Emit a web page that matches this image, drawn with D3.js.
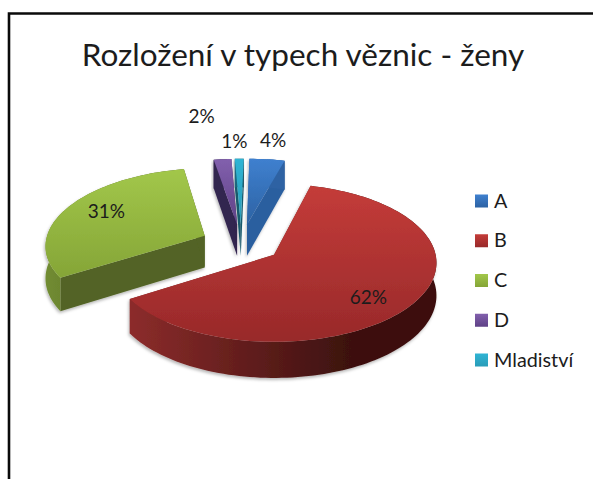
<!DOCTYPE html>
<html><head><meta charset="utf-8">
<script src="https://cdn.jsdelivr.net/npm/d3@7/dist/d3.min.js"></script>
<style>html,body{margin:0;padding:0;background:#fff;overflow:hidden}svg{display:block}text{font-family:Lato,"Open Sans",sans-serif;fill:#1c1c1c}</style>
</head><body><svg id="c" width="593" height="479"></svg>
<script>
const title = "Rozložení v typech věznic - ženy";
const categories = ["A", "B", "C", "D", "Mladiství"];
const values = [4, 62, 31, 2, 1];
const labels = ["4%", "62%", "31%", "2%", "1%"];

const topLight = ["#3f80cf", "#c43c39", "#a2c74a", "#8260ad", "#2fb4d4"];
const topDark  = ["#2c62a3", "#98292a", "#85a537", "#5e4186", "#2a9cb8"];
const wallLight = ["#2d62a3", "#8c2c2b", "#718c31", "#33264f", "#1d6e84"];
const wallDark  = ["#2d62a3", "#3c110f", "#546625", "#33264f", "#14505f"];
const radialWall = ["#2c5f9f", "#7e2726", "#526425", "#33254f", "#175a6c"];

// Perspective view of the pie plane
const view = {x0: 274, y0: 255, R: 161.6, Rt: 78.2, k: 0.101, depth: 32.5};
const centre = {X: -0.206, V: 0.152}, explode = 0.255;
function project(X, V, drop) {
  const w = 1 + view.k * V;
  return [view.x0 + view.R * X / w, view.y0 - view.Rt * V / w + (drop ? view.depth / w : 0)];
}

const svg = d3.select("#c");
const defs = svg.append("defs");
const arcs = d3.pie().sort(null).value(d => d)(values);

defs.append("filter").attr("id", "soft").attr("x", "-10%").attr("y", "-10%").attr("width", "120%").attr("height", "125%")
  .append("feDropShadow").attr("dx", -1).attr("dy", 2).attr("stdDeviation", 1.8).attr("flood-color", "#000").attr("flood-opacity", 0.28);

categories.forEach((c, i) => {
  const lin = (id, x2, y2, a, b) => {
    const g = defs.append("linearGradient").attr("id", id + i).attr("x1", 0).attr("y1", 0).attr("x2", x2).attr("y2", y2);
    g.append("stop").attr("offset", 0).attr("stop-color", a);
    g.append("stop").attr("offset", 1).attr("stop-color", b);
  };
  lin("top", 0, 1, topLight[i], topDark[i]);
  lin("wall", 0.72, 0, wallLight[i], wallDark[i]);
});

// frame
svg.append("path").attr("d", "M9 479V13.5H593").attr("fill", "none").attr("stroke", "#0a0a0a").attr("stroke-width", 2.6);

svg.append("text").attr("x", 303).attr("y", 66).attr("text-anchor", "middle").attr("font-size", 31.5).text(title);

const line = d3.line();
const slices = arcs.map((a, i) => {
  const mid = (a.startAngle + a.endAngle) / 2;
  const ax = centre.X + explode * Math.sin(mid), av = centre.V + explode * Math.cos(mid);
  const n = Math.max(3, Math.ceil((a.endAngle - a.startAngle) / 0.03));
  const rim = d3.range(n + 1).map(j => {
    const t = a.startAngle + (a.endAngle - a.startAngle) * j / n;
    return [ax + Math.sin(t), av + Math.cos(t)];
  });
  return {i, mid, ax, av, rim};
});

// back slices first
const order = slices.slice().sort((p, q) => q.av - p.av);
const pie = svg.append("g");
order.forEach(s => {
  const g = pie.append("g").attr("filter", "url(#soft)");
  const apexT = project(s.ax, s.av, false), apexB = project(s.ax, s.av, true);
  const rimT = s.rim.map(p => project(p[0], p[1], false));
  const rimB = s.rim.map(p => project(p[0], p[1], true));
  [0, rimT.length - 1].forEach(e => {
    g.append("path").attr("d", line([apexT, rimT[e], rimB[e], apexB]) + "Z").attr("fill", radialWall[s.i]);
  });
  g.append("path").attr("d", line(rimT.concat(rimB.slice().reverse())) + "Z").attr("fill", `url(#wall${s.i})`);
  g.append("path").attr("d", line([apexT].concat(rimT)) + "Z").attr("fill", `url(#top${s.i})`);
});

// data labels: anchored on each slice's bisector
const labelAnchor = [
  {r: 1.0, dx: 6, dy: -12},
  {r: 0.72, dx: -4, dy: 15},
  {r: 0.66, dx: -7, dy: 1},
  {r: 1.0, dx: -21, dy: -36},
  {r: 1.0, dx: -5, dy: -11}
];
slices.forEach(s => {
  const la = labelAnchor[s.i];
  const p = project(s.ax + la.r * Math.sin(s.mid), s.av + la.r * Math.cos(s.mid), false);
  svg.append("text").attr("x", p[0] + la.dx).attr("y", p[1] + la.dy).attr("text-anchor", "middle")
    .attr("font-size", 19).text(labels[s.i]);
});

// legend
const ly = d3.scalePoint().domain(categories).range([201, 360]);
const leg = svg.append("g").selectAll("g").data(categories).join("g").attr("transform", d => `translate(475,${ly(d)})`);
leg.append("rect").attr("x", 0).attr("y", -6.5).attr("width", 13).attr("height", 13).attr("fill", (d, i) => `url(#top${i})`);
leg.append("text").attr("x", 19).attr("y", 6.5).attr("font-size", 19.8).text(d => d);
</script></body></html>
